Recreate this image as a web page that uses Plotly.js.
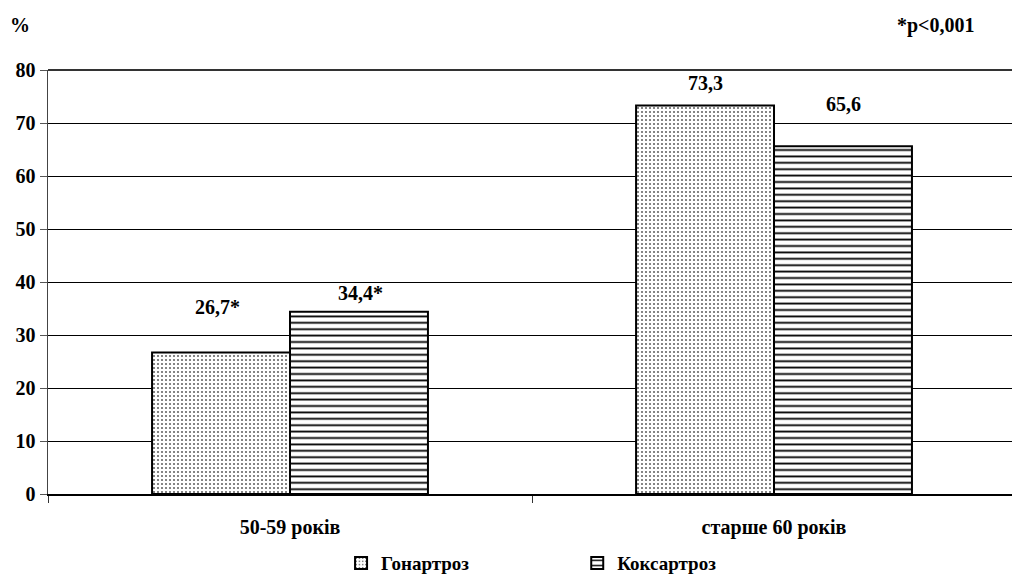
<!DOCTYPE html>
<html>
<head>
<meta charset="utf-8">
<script src="https://cdn.plot.ly/plotly-3.0.1.min.js"></script>
<style>html,body{margin:0;padding:0;background:#fff;}#chart{width:1012px;height:577px;}</style>
</head>
<body>
<div id="chart"></div>
<script>
const categories = ['50-59 років', 'старше 60 років'];
const seriesNames = ['Гонартроз', 'Коксартроз'];
const gonartroz = [26.7, 73.3];
const koksartroz = [34.4, 65.6];
const gonLabels = ['26,7*', '73,3'];
const koksLabels = ['34,4*', '65,6'];
const yTicks = [0, 10, 20, 30, 40, 50, 60, 70, 80];

const F = '"Liberation Serif", "Times New Roman", serif';
const font = {family: F, size: 20, color: '#000', weight: 'bold'};
const legFont = {family: F, size: 19, color: '#000', weight: 'bold'};

const traces = [
  {type: 'bar', name: seriesNames[0], x: categories, y: gonartroz, legend: 'legend',
   marker: {color: '#fff', line: {color: '#000', width: 2},
            pattern: {shape: '.', fgcolor: '#666', bgcolor: '#fff', size: 4, solidity: 0.22}},
   hoverinfo: 'none'},
  {type: 'bar', name: seriesNames[1], x: categories, y: koksartroz, legend: 'legend2',
   marker: {color: '#fff', line: {color: '#000', width: 2},
            pattern: {shape: '-', fgcolor: '#000', bgcolor: '#fff', size: 6.4, solidity: 0.28}},
   hoverinfo: 'none'}
];

const gonShift = [[-73, 45], [-69, 23]];
const koksShift = [[70, 19], [69, 42]];
const annotations = [];
categories.forEach((c, i) => {
  annotations.push({x: c, y: gonartroz[i], xref: 'x', yref: 'y', text: gonLabels[i], showarrow: false,
    xshift: gonShift[i][0], yshift: gonShift[i][1], yanchor: 'middle', font: font});
  annotations.push({x: c, y: koksartroz[i], xref: 'x', yref: 'y', text: koksLabels[i], showarrow: false,
    xshift: koksShift[i][0], yshift: koksShift[i][1], yanchor: 'middle', font: font});
});
annotations.push({xref: 'paper', yref: 'paper', x: -0.029, y: 1.105, text: '%', showarrow: false,
  xanchor: 'center', yanchor: 'middle', font: font});
annotations.push({xref: 'paper', yref: 'paper', x: 0.921, y: 1.105, text: '*p<0,001', showarrow: false,
  xanchor: 'center', yanchor: 'middle', font: font});

const legBase = {orientation: 'h', xanchor: 'left', y: -0.163, yanchor: 'middle',
                 itemwidth: 30, font: legFont, bgcolor: 'rgba(0,0,0,0)'};

const layout = {
  width: 1012, height: 577,
  margin: {l: 48, r: 0, t: 70, b: 83, autoexpand: false},
  paper_bgcolor: '#fff', plot_bgcolor: '#fff',
  barmode: 'group', bargap: 0.43, bargroupgap: 0,
  font: font,
  showlegend: true,
  legend: Object.assign({}, legBase, {x: 0.304}),
  legend2: Object.assign({}, legBase, {x: 0.549}),
  xaxis: {type: 'category', range: [-0.5, 1.4917], showline: true, linecolor: '#000', linewidth: 1.5,
          ticks: 'outside', tickson: 'boundaries', ticklen: 7, tickcolor: '#333',
          ticklabelstandoff: 14,
          tickfont: font, showgrid: false, zeroline: false, fixedrange: true},
  yaxis: {range: [0, 80], tickvals: yTicks, ticks: 'outside', ticklen: 7, tickcolor: '#555',
          showline: true, linecolor: '#444', linewidth: 1.5,
          showgrid: true, gridcolor: '#000', gridwidth: 1, zeroline: false,
          tickfont: font, fixedrange: true},
  shapes: [{type: 'line', xref: 'paper', yref: 'paper', x0: 0, x1: 1, y0: 1, y1: 1,
            line: {color: '#333', width: 2}}],
  annotations: annotations
};

Plotly.newPlot('chart', traces, layout, {displayModeBar: false, staticPlot: true});
</script>
</body>
</html>
